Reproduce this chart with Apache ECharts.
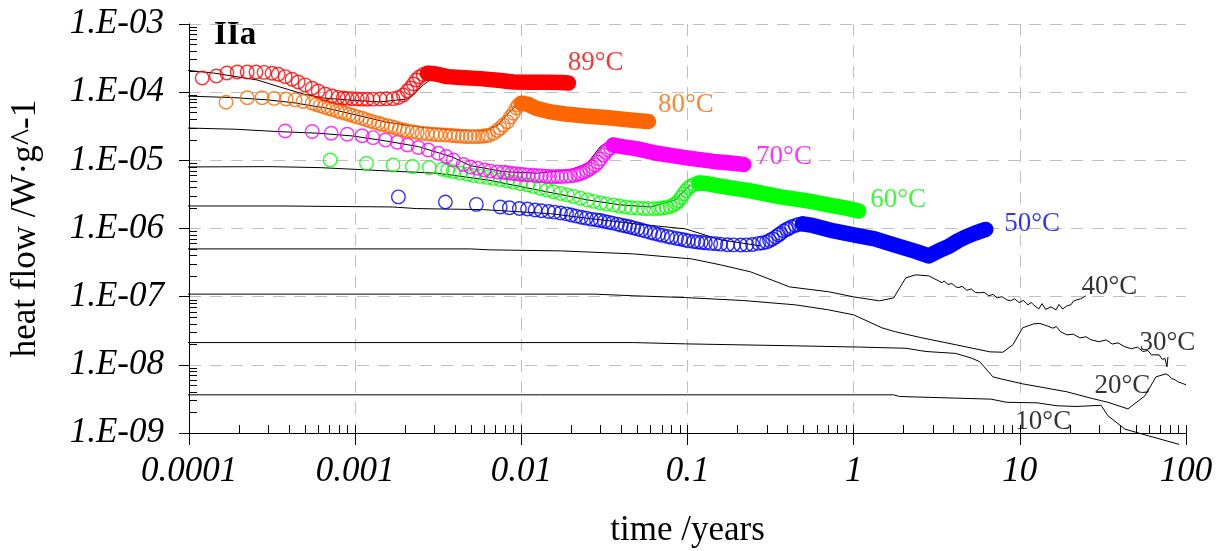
<!DOCTYPE html>
<html><head><meta charset="utf-8">
<script src="https://cdn.jsdelivr.net/npm/echarts@6/dist/echarts.min.js"></script>
<style>html,body{margin:0;padding:0;background:#fff}#c{width:1217px;height:551px}</style>
</head><body><div id="c"></div>
<script>
// ---------------- DATA (time in years, heat flow in W/g) ----------------
const xTickLabels = ['0.0001','0.001','0.01','0.1','1','10','100'];
const yTickLabels = ['1.E-09','1.E-08','1.E-07','1.E-06','1.E-05','1.E-04','1.E-03'];

// 89 °C measured (open circles, then dense solid part)
const red89Rings = [[1.20e-4,1.61e-4],[1.46e-4,1.73e-4],[1.69e-4,1.91e-4],[1.95e-4,1.98e-4],[2.24e-4,1.98e-4],[2.53e-4,1.98e-4],[2.83e-4,1.95e-4],[3.16e-4,1.89e-4],[3.44e-4,1.83e-4],[3.79e-4,1.69e-4],[4.17e-4,1.55e-4],[4.54e-4,1.41e-4],[5.00e-4,1.28e-4],[5.51e-4,1.14e-4],[5.99e-4,1.04e-4],[6.60e-4,9.4e-5],[7.27e-4,8.8e-5],[7.90e-4,8.4e-5],[8.47e-4,8.2e-5],[8.95e-4,8.1e-5],[9.59e-4,8.0e-5],[1.03e-3,7.95e-5],[1.10e-3,7.9e-5],[1.18e-3,7.87e-5],[1.28e-3,7.9e-5],[1.41e-3,7.95e-5],[1.54e-3,8.0e-5],[1.69e-3,8.03e-5],[1.82e-3,8.36e-5],[1.95e-3,9.1e-5],[2.06e-3,1.04e-4],[2.15e-3,1.15e-4],[2.24e-3,1.32e-4],[2.33e-3,1.51e-4],[2.43e-3,1.67e-4],[2.57e-3,1.82e-4],[2.72e-3,1.89e-4]];
const red89Band = [[2.72e-3,1.89e-4],[2.91e-3,1.88e-4],[3.25e-3,1.79e-4],[3.58e-3,1.69e-4],[4.29e-3,1.64e-4],[5.66e-3,1.58e-4],[7.47e-3,1.48e-4],[8.95e-3,1.41e-4],[1.13e-2,1.40e-4],[1.43e-2,1.40e-4],[1.72e-2,1.39e-4],[1.92e-2,1.36e-4]];

// 80 °C
const orange80Rings = [[1.67e-4,7.1e-5],[2.24e-4,8.3e-5],[2.75e-4,8.3e-5],[3.25e-4,8.1e-5],[3.84e-4,7.95e-5],[4.35e-4,7.7e-5],[4.86e-4,7.3e-5],[5.51e-4,6.9e-5],[5.82e-4,6.6e-5],[6.15e-4,6.3e-5],[6.51e-4,6.07e-5],[6.88e-4,5.8e-5],[7.27e-4,5.56e-5],[7.79e-4,5.3e-5],[8.24e-4,5.09e-5],[8.71e-4,4.9e-5],[9.20e-4,4.71e-5],[9.73e-4,4.5e-5],[1.03e-3,4.33e-5],[1.10e-3,4.14e-5],[1.165e-3,3.95e-5],[1.23e-3,3.78e-5],[1.30e-3,3.63e-5],[1.38e-3,3.5e-5],[1.454e-3,3.36e-5],[1.56e-3,3.23e-5],[1.648e-3,3.12e-5],[1.74e-3,3.02e-5],[1.841e-3,2.89e-5],[1.95e-3,2.79e-5],[2.06e-3,2.70e-5],[2.21e-3,2.64e-5],[2.363e-3,2.56e-5],[2.53e-3,2.5e-5],[2.72e-3,2.45e-5],[2.91e-3,2.41e-5],[3.08e-3,2.39e-5],[3.25e-3,2.37e-5],[3.49e-3,2.35e-5],[3.74e-3,2.33e-5],[3.95e-3,2.30e-5],[4.17e-3,2.28e-5],[4.41e-3,2.26e-5],[4.66e-3,2.24e-5],[4.93e-3,2.23e-5],[5.21e-3,2.23e-5],[5.51e-3,2.24e-5],[5.82e-3,2.26e-5],[6.07e-3,2.29e-5],[6.33e-3,2.32e-5],[6.78e-3,2.5e-5],[7.17e-3,2.74e-5],[7.47e-3,2.96e-5],[7.79e-3,3.3e-5],[8.24e-3,3.69e-5],[8.59e-3,4.33e-5],[8.95e-3,4.91e-5],[9.33e-3,5.87e-5],[9.59e-3,6.49e-5],[1.00e-2,6.88e-5]];
const orange80Band = [[1.00e-2,6.88e-5],[1.10e-2,6.6e-5],[1.21e-2,5.87e-5],[1.50e-2,5.13e-5],[1.84e-2,4.79e-5],[2.43e-2,4.48e-5],[3.21e-2,4.26e-5],[3.95e-2,4.05e-5],[4.86e-2,3.85e-5],[5.82e-2,3.72e-5]];

// 70 °C
const magenta70Rings = [[3.79e-4,2.70e-5],[5.51e-4,2.65e-5],[7.17e-4,2.50e-5],[8.95e-4,2.41e-5],[1.10e-3,2.30e-5],[1.28e-3,2.15e-5],[1.52e-3,1.99e-5],[1.79e-3,1.84e-5],[2.06e-3,1.68e-5],[2.40e-3,1.54e-5],[2.75e-3,1.42e-5],[3.16e-3,1.27e-5],[3.53e-3,1.14e-5],[3.89e-3,1.01e-5],[4.47e-3,8.7e-6],[4.93e-3,8.0e-6],[5.43e-3,7.66e-6],[5.99e-3,7.23e-6],[6.51e-3,6.99e-6],[7.17e-3,6.76e-6],[7.79e-3,6.69e-6],[8.24e-3,6.59e-6],[8.71e-3,6.43e-6],[9.26e-3,6.35e-6],[9.86e-3,6.26e-6],[1.04e-2,6.18e-6],[1.10e-2,6.11e-6],[1.18e-2,6.04e-6],[1.25e-2,5.97e-6],[1.32e-2,5.92e-6],[1.40e-2,5.87e-6],[1.48e-2,5.82e-6],[1.56e-2,5.77e-6],[1.65e-2,5.78e-6],[1.74e-2,5.80e-6],[1.86e-2,5.84e-6],[1.97e-2,5.91e-6],[2.08e-2,6.03e-6],[2.18e-2,6.21e-6],[2.27e-2,6.42e-6],[2.36e-2,6.69e-6],[2.47e-2,7.05e-6],[2.57e-2,7.48e-6],[2.68e-2,7.98e-6],[2.79e-2,8.56e-6],[2.89e-2,9.4e-6],[2.99e-2,1.05e-5],[3.12e-2,1.20e-5],[3.21e-2,1.31e-5],[3.30e-2,1.42e-5],[3.44e-2,1.52e-5],[3.58e-2,1.68e-5]];
const magenta70Band = [[3.58e-2,1.68e-5],[3.95e-2,1.60e-5],[5.00e-2,1.47e-5],[6.42e-2,1.28e-5],[7.90e-2,1.18e-5],[0.104,1.07e-5],[0.143,9.64e-6],[0.182,9.16e-6],[0.218,8.71e-6]];

// 60 °C
const green60Rings = [[7.07e-4,1.01e-5],[1.17e-3,9.07e-6],[1.69e-3,8.56e-6],[2.21e-3,8.14e-6],[2.79e-3,7.82e-6],[3.34e-3,7.41e-6],[3.60e-3,7.16e-6],[3.89e-3,6.83e-6],[4.29e-3,6.53e-6],[4.73e-3,6.26e-6],[5.14e-3,6.01e-6],[5.66e-3,5.81e-6],[6.24e-3,5.62e-6],[6.78e-3,5.43e-6],[7.47e-3,5.20e-6],[8.24e-3,4.99e-6],[8.95e-3,4.79e-6],[9.86e-3,4.58e-6],[1.09e-2,4.36e-6],[1.18e-2,4.12e-6],[1.30e-2,3.90e-6],[1.43e-2,3.68e-6],[1.56e-2,3.46e-6],[1.72e-2,3.27e-6],[1.89e-2,3.11e-6],[2.06e-2,2.96e-6],[2.27e-2,2.78e-6],[2.50e-2,2.63e-6],[2.72e-2,2.50e-6],[2.99e-2,2.37e-6],[3.25e-2,2.29e-6],[3.58e-2,2.22e-6],[3.89e-2,2.14e-6],[4.23e-2,2.07e-6],[4.60e-2,2.02e-6],[5.00e-2,1.99e-6],[5.43e-2,1.97e-6],[5.82e-2,1.96e-6],[6.25e-2,1.96e-6],[6.69e-2,1.97e-6],[7.07e-2,2.0e-6],[7.47e-2,2.04e-6],[7.85e-2,2.11e-6],[8.24e-2,2.22e-6],[8.55e-2,2.36e-6],[8.83e-2,2.54e-6],[9.15e-2,2.85e-6],[9.46e-2,3.22e-6],[9.80e-2,3.60e-6],[0.101,3.94e-6],[0.105,4.20e-6],[0.109,4.43e-6],[0.117,4.66e-6]];
const green60Band = [[0.117,4.66e-6],[0.128,4.58e-6],[0.143,4.36e-6],[0.182,3.94e-6],[0.230,3.62e-6],[0.295,3.22e-6],[0.363,2.91e-6],[0.480,2.63e-6],[0.574,2.45e-6],[0.727,2.18e-6],[0.920,1.97e-6],[1.07,1.81e-6]];

// 50 °C
const blue50Rings = [[1.82e-3,2.91e-6],[3.49e-3,2.45e-6],[5.36e-3,2.26e-6],[7.47e-3,2.07e-6],[8.47e-3,2.02e-6],[9.73e-3,1.97e-6],[1.09e-2,1.93e-6],[1.21e-2,1.87e-6],[1.32e-2,1.82e-6],[1.46e-2,1.78e-6],[1.58e-2,1.74e-6],[1.72e-2,1.69e-6],[1.87e-2,1.64e-6],[2.00e-2,1.58e-6],[2.14e-2,1.52e-6],[2.30e-2,1.46e-6],[2.46e-2,1.42e-6],[2.64e-2,1.37e-6],[2.83e-2,1.34e-6],[2.99e-2,1.31e-6],[3.16e-2,1.27e-6],[3.34e-2,1.24e-6],[3.53e-2,1.20e-6],[3.79e-2,1.16e-6],[4.0e-2,1.12e-6],[4.23e-2,1.09e-6],[4.47e-2,1.06e-6],[4.73e-2,1.02e-6],[5.0e-2,9.87e-7],[5.28e-2,9.54e-7],[5.58e-2,9.16e-7],[5.99e-2,8.77e-7],[6.33e-2,8.48e-7],[6.69e-2,8.20e-7],[7.07e-2,7.92e-7],[7.58e-2,7.66e-7],[8.01e-2,7.40e-7],[8.59e-2,7.16e-7],[9.07e-2,6.99e-7],[9.59e-2,6.81e-7],[0.101,6.58e-7],[0.109,6.43e-7],[0.115,6.32e-7],[0.121,6.26e-7],[0.128,6.15e-7],[0.138,6.05e-7],[0.148,6.0e-7],[0.158,5.89e-7],[0.174,5.79e-7],[0.189,5.75e-7],[0.209,5.73e-7],[0.227,5.75e-7],[0.246,5.83e-7],[0.268,6.05e-7],[0.283,6.15e-7],[0.299,6.36e-7],[0.312,6.69e-7],[0.325,7.04e-7],[0.339,7.53e-7],[0.353,8.06e-7],[0.363,8.48e-7],[0.379,9.22e-7],[0.395,9.70e-7],[0.406,1.00e-6],[0.423,1.06e-6],[0.447,1.11e-6],[0.466,1.15e-6],[0.493,1.17e-6]];
const blue50Band = [[0.493,1.17e-6],[0.566,1.11e-6],[0.758,9.22e-7],[1.0,8.06e-7],[1.34,7.04e-7],[1.79,5.67e-7],[2.36,4.61e-7],[2.83,3.96e-7],[3.34,4.86e-7],[3.74,5.46e-7],[4.23,6.58e-7],[4.73,7.53e-7],[5.43,8.62e-7],[6.24,9.70e-7]];

// thin black curves
const black89 = [[9.2e-5,2.12e-4],[1.40e-4,1.91e-4],[2.57e-4,1.51e-4],[3.53e-4,1.19e-4],[4.86e-4,9.4e-5],[6.42e-4,8.2e-5],[8.95e-4,7.7e-5],[1.41e-3,7.2e-5],[2.06e-3,7.95e-5],[2.24e-3,9.1e-5],[2.57e-3,1.28e-4],[2.72e-3,1.41e-4],[3.03e-3,1.73e-4]];
const black80 = [[9.2e-5,8.8e-5],[1.89e-4,8.3e-5],[2.99e-4,7.7e-5],[4.35e-4,6.95e-5],[6.60e-4,5.87e-5],[9.59e-4,4.79e-5],[1.52e-3,3.66e-5],[2.40e-3,3.09e-5],[3.84e-3,2.79e-5],[6.07e-3,2.70e-5],[7.27e-3,3.30e-5],[8.35e-3,4.95e-5],[9.46e-3,6.49e-5],[1.06e-2,6.71e-5]];
const black70 = [[9.2e-5,2.99e-5],[1.89e-4,2.86e-5],[3.44e-4,2.64e-5],[5.99e-4,2.50e-5],[9.59e-4,2.28e-5],[1.52e-3,1.93e-5],[2.40e-3,1.59e-5],[3.84e-3,1.12e-5],[4.93e-3,8.36e-6],[7.79e-3,6.83e-6],[1.25e-2,6.47e-6],[1.97e-2,7.23e-6],[2.50e-2,9.07e-6],[2.99e-2,1.59e-5],[3.25e-2,1.80e-5]];
const black60 = [[9.2e-5,8.0e-6],[3.08e-4,8.08e-6],[6.15e-4,7.82e-6],[1.56e-3,6.99e-6],[3.12e-3,6.47e-6],[6.24e-3,5.16e-6],[1.25e-2,3.68e-6],[2.50e-2,2.63e-6],[3.95e-2,2.22e-6],[5.99e-2,2.07e-6],[8.47e-2,2.63e-6],[0.104,4.36e-6]];
const black50 = [[9.2e-5,2.14e-6],[3.58e-4,2.14e-6],[1.67e-3,2.07e-6],[2.33e-3,1.96e-6],[5.90e-3,1.89e-6],[1.50e-2,1.65e-6],[2.40e-2,1.43e-6],[4.86e-2,1.17e-6],[9.73e-2,9.87e-7],[0.158,6.81e-7],[0.275,5.56e-7]];
const black40 = [[9.2e-5,5.02e-7],[4.93e-3,5.02e-7],[6.51e-3,4.86e-7],[1.74e-2,4.69e-7],[4.73e-2,4.24e-7],[0.106,3.58e-7],[0.158,2.93e-7],[0.240,2.31e-7],[0.412,1.39e-7],[0.707,1.18e-7],[1.0,9.93e-8],[1.43,8.68e-8],[1.74,9.6e-8],[2.06,1.89e-7],[2.36,2.09e-7],[2.83,2.02e-7],[3.25,1.70e-7],[3.4,1.60e-7],[3.5,1.70e-7],[3.7,1.51e-7],[3.9,1.56e-7],[4.12,1.39e-7],[4.3,1.36e-7],[4.5,1.42e-7],[4.8,1.24e-7],[5.1,1.30e-7],[5.4,1.15e-7],[5.74,1.14e-7],[6.1,1.16e-7],[6.5,1.03e-7],[6.9,1.08e-7],[7.3,9.6e-8],[7.8,1.0e-7],[8.35,8.98e-8],[8.8,8.7e-8],[9.3,9.3e-8],[9.9,8.2e-8],[10.5,8.8e-8],[11.2,7.6e-8],[11.7,8.2e-8],[12.1,7.58e-8],[13.0,6.6e-8],[13.6,7.9e-8],[14.3,6.5e-8],[15.4,7.09e-8],[16.5,6.4e-8],[17.2,7.7e-8],[18.1,6.6e-8],[19.2,7.33e-8],[20.3,7.6e-8],[21.0,8.6e-8],[22.0,8.98e-8],[23.2,9.3e-8],[25.0,1.03e-7]];
const black30 = [[9.2e-5,1.09e-7],[2.75e-2,1.09e-7],[4.73e-2,1.03e-7],[9.73e-2,9.70e-8],[0.218,8.77e-8],[0.447,7.58e-8],[0.707,6.40e-8],[1.0,5.41e-8],[1.48,3.49e-8],[1.79,3.05e-8],[2.57,2.49e-8],[4.12,1.97e-8],[6.60,1.55e-8],[7.90,1.53e-8],[9.08,1.97e-8],[10.4,3.49e-8],[12.1,3.99e-8],[13.2,4.05e-8],[14.6,3.73e-8],[15.8,3.45e-8],[16.6,3.65e-8],[17.6,3.05e-8],[19.2,2.75e-8],[21.0,2.82e-8],[23.0,2.48e-8],[25.0,2.58e-8],[26.8,2.33e-8],[30.0,2.18e-8],[33.0,2.32e-8],[36.0,2.02e-8],[39.0,2.1e-8],[42.9,1.84e-8],[47.0,1.72e-8],[51.0,1.82e-8],[55.0,1.57e-8],[59.0,1.62e-8],[62.0,1.40e-8],[65.1,1.40e-8],[69.0,1.40e-8],[72.0,1.20e-8],[74.7,1.24e-8],[76.8,9.35e-9],[77.9,1.31e-8]];
const black20 = [[9.2e-5,2.12e-8],[4.73e-2,2.12e-8],[9.73e-2,2.03e-8],[0.447,1.90e-8],[1.10,1.82e-8],[2.06,1.75e-8],[2.72,1.57e-8],[4.12,1.47e-8],[5.14,1.25e-8],[5.74,1.11e-8],[6.88,6.67e-9],[7.68,6.23e-9],[10.4,5.26e-9],[19.2,4.02e-9],[26.8,3.24e-9],[33.9,2.82e-9],[44.7,2.26e-9],[56.6,3.51e-9],[66.0,6.67e-9],[75.8,7.38e-9],[79.0,6.9e-9],[82.0,6.3e-9],[85.9,6.03e-9],[90.0,5.6e-9],[95.0,5.35e-9],[100,5.09e-9]];
const black10 = [[9.2e-5,3.63e-9],[1.74,3.63e-9],[1.89,3.43e-9],[6.69,3.14e-9],[8.35,2.82e-9],[12.7,2.77e-9],[16.7,2.51e-9],[21.8,2.45e-9],[30.8,2.55e-9],[33.9,1.79e-9],[42.9,1.14e-9],[59.9,9.04e-10],[90.8,6.81e-10]];

// temperature labels (text and data-space anchor of the text's left-middle)
const labelNames = ['89°C','80°C','70°C','60°C','50°C','40°C','30°C','20°C','10°C'];
const labelAnchors = [[1.89e-2,2.68e-4],[6.60e-2,6.49e-5],[0.257,1.12e-5],[1.25,2.63e-6],[8.01,1.17e-6],[23.3,1.39e-7],[52.1,2.07e-8],[27.9,4.92e-9],[9.33,1.46e-9]];

// ---------------- STYLE ----------------
const SERIF = '"Liberation Serif","Times New Roman",serif';
const C_RED = '#ff0000', C_ORANGE = '#ff6600', C_MAG = '#ff00ff', C_GREEN = '#00ff00', C_BLUE = '#0000ff';
const labelColors = [C_RED, C_ORANGE, C_MAG, C_GREEN, C_BLUE, '#000', '#000', '#000', '#000'];

// inside tick positions on companion linear axes (log10 space)
const xInnerTicks = [], yInnerTicks = [];
for (let e = -4; e <= 2; e++) { xInnerTicks.push(e); if (e < 2) for (let m = 2; m <= 9; m++) xInnerTicks.push(e + Math.log10(m)); }
for (let e = -9; e < -3; e++) for (let m = 2; m <= 9; m++) yInnerTicks.push(e + Math.log10(m));

function rings(data, color) {
  return { type: 'scatter', data: data, symbol: 'circle', symbolSize: 13.5, z: 3, silent: true,
    itemStyle: { color: 'rgba(0,0,0,0)', borderColor: color, borderWidth: 1.4 } };
}
function band(data, color) {
  return { type: 'line', data: data, symbol: 'none', showSymbol: false, z: 3, silent: true,
    lineStyle: { color: color, width: 15.5, cap: 'round', join: 'round' } };
}
function thin(data) {
  return { type: 'line', data: data, symbol: 'none', showSymbol: false, z: 2, silent: true, clip: false,
    lineStyle: { color: '#000', width: 1 } };
}

const chart = echarts.init(document.getElementById('c'), null, { renderer: 'canvas', width: 1217, height: 551 });
chart.setOption({
  animation: false,
  backgroundColor: '#ffffff',
  textStyle: { fontFamily: SERIF },
  grid: { left: 189, right: 31, top: 24, bottom: 118, outerBoundsMode: 'none', containLabel: false },
  graphic: [{ type: 'text', left: 214, top: 19, style: { text: 'IIa', font: 'bold 33px ' + SERIF, fill: '#000' } }],
  xAxis: [
    { type: 'log', logBase: 10, min: 1e-4, max: 100,
      axisLine: { onZero: false, lineStyle: { color: '#000', width: 1 } },
      axisTick: { inside: false, length: 12, lineStyle: { color: '#000', width: 1 } },
      axisLabel: { margin: 21, color: '#000', fontFamily: SERIF, fontStyle: 'italic', fontSize: 35,
        formatter: v => xTickLabels[Math.round(Math.log10(v)) + 4] },
      splitLine: { show: true, showMinLine: false, showMaxLine: false, lineStyle: { color: '#bfbfbf', width: 1, type: [12, 9] } },
      minorTick: { show: false }, minorSplitLine: { show: false },
      name: 'time /years', nameLocation: 'middle', nameGap: 80,
      nameTextStyle: { color: '#000', fontFamily: SERIF, fontSize: 35 } },
    { type: 'value', min: -4, max: 2, position: 'bottom',
      axisLine: { show: false, onZero: false },
      axisTick: { show: true, inside: true, length: 8, customValues: xInnerTicks, lineStyle: { color: '#000', width: 1 } },
      axisLabel: { show: false }, splitLine: { show: false } }
  ],
  yAxis: [
    { type: 'log', logBase: 10, min: 1e-9, max: 1e-3,
      axisLine: { onZero: false, lineStyle: { color: '#000', width: 1 } },
      axisTick: { inside: false, length: 10, lineStyle: { color: '#000', width: 1 } },
      axisLabel: { margin: 25, color: '#000', fontFamily: SERIF, fontStyle: 'italic', fontSize: 35,
        formatter: v => yTickLabels[Math.round(Math.log10(v)) + 9] },
      splitLine: { show: true, showMinLine: false, showMaxLine: false, lineStyle: { color: '#bfbfbf', width: 1, type: [12, 9] } },
      minorTick: { show: false }, minorSplitLine: { show: false },
      name: 'heat flow /W·g^-1', nameLocation: 'middle', nameGap: 146,
      nameTextStyle: { color: '#000', fontFamily: SERIF, fontSize: 35 } },
    { type: 'value', min: -9, max: -3, position: 'left',
      axisLine: { show: false, onZero: false },
      axisTick: { show: true, inside: true, length: 8, customValues: yInnerTicks, lineStyle: { color: '#000', width: 1 } },
      axisLabel: { show: false }, splitLine: { show: false } }
  ],
  series: [
    thin(black10), thin(black20), thin(black30), thin(black40), thin(black50),
    thin(black60), thin(black70), thin(black80), thin(black89),
    band(blue50Band, C_BLUE), rings(blue50Rings, C_BLUE),
    band(green60Band, C_GREEN), rings(green60Rings, C_GREEN),
    band(magenta70Band, C_MAG), rings(magenta70Rings, C_MAG),
    band(orange80Band, C_ORANGE), rings(orange80Rings, C_ORANGE),
    band(red89Band, C_RED), rings(red89Rings, C_RED),
    { type: 'scatter', symbolSize: 1, z: 5, silent: true, itemStyle: { color: 'rgba(0,0,0,0)' },
      data: labelAnchors.map((p, i) => ({ name: labelNames[i], value: p,
        label: { show: true, position: 'right', distance: 0, formatter: '{b}', color: labelColors[i],
          fontFamily: SERIF, fontSize: 27, verticalAlign: 'middle' } })) }
  ]
});
</script></body></html>
